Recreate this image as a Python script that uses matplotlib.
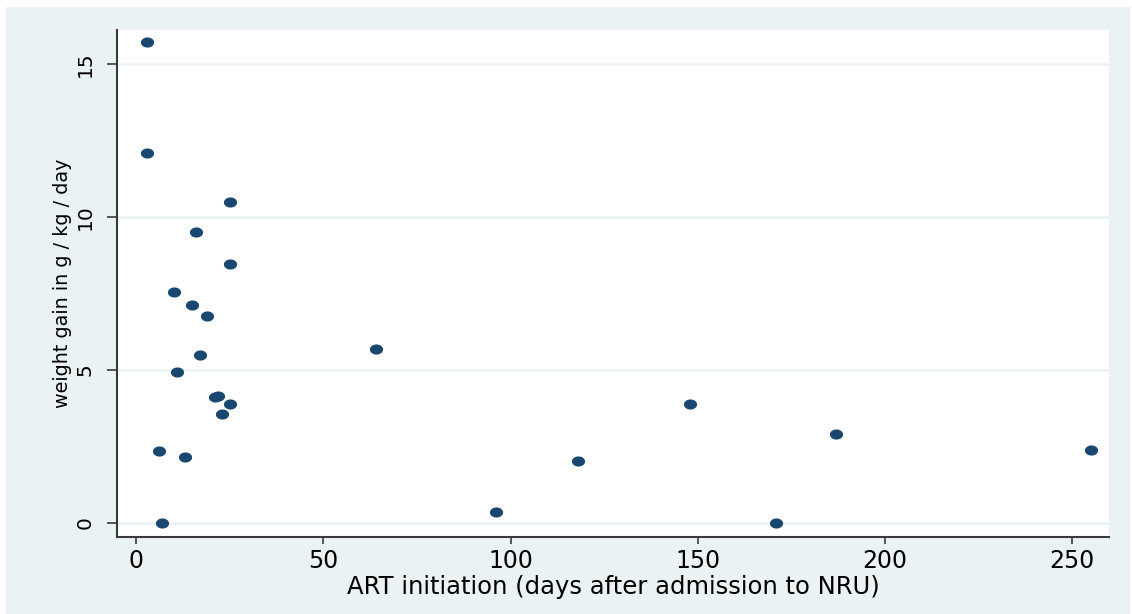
import numpy as np
import matplotlib
matplotlib.use("Agg")
import matplotlib.pyplot as plt
from matplotlib.patches import Rectangle

# days after admission to NRU when ART was started, and weight gain (g/kg/day)
art_days = [3, 3, 25, 16, 25, 10, 15, 19, 64, 17, 11, 21, 22, 25, 23,
            148, 187, 255, 6, 13, 118, 96, 7, 171]
weight_gain = [15.72, 12.09, 10.49, 9.51, 8.46, 7.55, 7.12, 6.76, 5.69, 5.49, 4.93, 4.12,
               4.15, 3.89, 3.56, 3.89, 2.91, 2.39, 2.35, 2.16, 2.03, 0.36, 0.0, 0.0]

x_ticks = [0, 50, 100, 150, 200, 250]
y_ticks = [0, 5, 10, 15]

W, H = 1132, 614
bg = "#EAF2F3"
navy = "#1A476F"
dark = "#3A3A3A"

fig = plt.figure(figsize=(W / 100, H / 100), dpi=100, facecolor="white")
# stata style outer region, with a thin white margin at left and top
fig.patches.append(Rectangle((6 / W, 0), (1130 - 6) / W, (H - 7) / H,
                             transform=fig.transFigure, facecolor=bg,
                             edgecolor="none", zorder=-10))

ax = fig.add_axes([117 / W, 1 - 537 / H, (1109 - 117) / W, (537 - 30) / H])
ax.set_facecolor("white")

# slightly wide ellipse marker, like the original
t = np.linspace(0, 2 * np.pi, 40)
ellipse = np.column_stack([1.3 * np.cos(t), np.sin(t)])
ax.scatter(art_days, weight_gain, marker=ellipse, s=90, color=navy,
           linewidths=0, zorder=3)

ax.set_xlim(-5.1, 259.8)
ax.set_ylim(-0.46, 16.11)
ax.set_xticks(x_ticks)
ax.set_yticks(y_ticks)

ax.grid(axis="y", color=bg, linewidth=1.8, zorder=0)
ax.set_axisbelow(True)

for side in ("top", "right"):
    ax.spines[side].set_visible(False)
for side in ("left", "bottom"):
    ax.spines[side].set_color(dark)
    ax.spines[side].set_linewidth(1.5)

ax.tick_params(axis="x", length=5, width=1.2, color=dark, labelsize=17, pad=4)
ax.tick_params(axis="y", length=7, width=1.2, color=dark, labelsize=14.5, pad=9)
for lab in ax.get_yticklabels():
    lab.set_rotation(90)
    lab.set_va("center")

ax.set_xlabel("ART initiation (days after admission to NRU)", fontsize=17.5, labelpad=1)
ax.set_ylabel("weight gain in g / kg / day", fontsize=13.8, labelpad=3)

fig.savefig("out.png", dpi=100, facecolor=fig.get_facecolor())
